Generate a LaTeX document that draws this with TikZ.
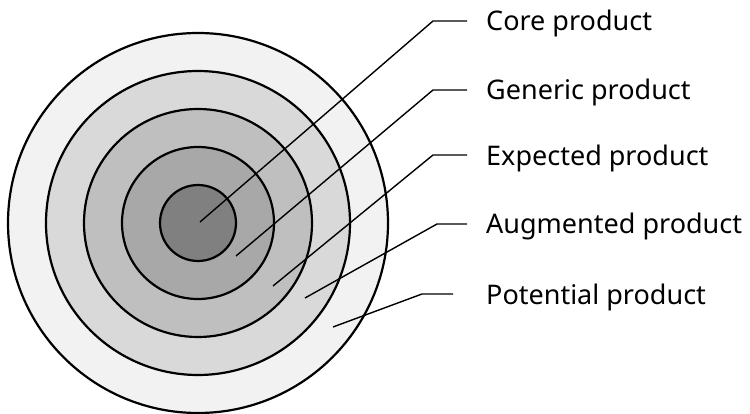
\documentclass[tikz,border=0pt]{standalone}
\usepackage{fontspec}
\setmainfont{Noto Sans}
\usepackage{tikz}
\usetikzlibrary{positioning}

\begin{document}
\begin{tikzpicture}[x=1pt, y=-1pt]
	\tikzstyle{ring} = [circle, draw = black, line width = 2.2pt, inner sep = 0pt]
	\tikzstyle{leader} = [draw = black, line width = 1.4pt]
	\tikzstyle{label} = [anchor = west, inner sep = 0pt, font = \fontsize{27}{32}\selectfont]

\useasboundingbox (0, 0) rectangle (750, 414);

\node[ring, fill = black!5,  minimum size = 380pt] (potential) at (198, 223) {};
\node[ring, fill = black!15, minimum size = 304pt] (augmented) at (198, 223) {};
\node[ring, fill = black!25, minimum size = 228pt] (expected) at (198, 223) {};
\node[ring, fill = black!34, minimum size = 152pt] (generic) at (198, 223) {};
\node[ring, fill = black!50, minimum size = 76pt]  (core) at (198, 223) {};

\node[label] (l1) at (486, 23)  {Core product};
\node[label] (l2) at (486, 92)  {Generic product};
\node[label] (l3) at (486, 158) {Expected product};
\node[label] (l4) at (486, 226) {Augmented product};
\node[label] (l5) at (486, 297) {Potential product};

\coordinate (p1) at (200, 222);
\coordinate (p2) at (236, 256);
\coordinate (p3) at (273, 286);
\coordinate (p4) at (305, 298);
\coordinate (p5) at (333, 327);

\coordinate (e1) at (433, 21);
\coordinate (e2) at (433, 90);
\coordinate (e3) at (433, 155);
\coordinate (e4) at (437, 224);
\coordinate (e5) at (422, 294);

	\path[leader] (p1) -- (e1) -- (467, 21);
	\path[leader] (p2) -- (e2) -- (467, 90);
	\path[leader] (p3) -- (e3) -- (467, 155);
	\path[leader] (p4) -- (e4) -- (467, 224);
	\path[leader] (p5) -- (e5) -- (453, 294);
	\end{tikzpicture}
\end{document}
